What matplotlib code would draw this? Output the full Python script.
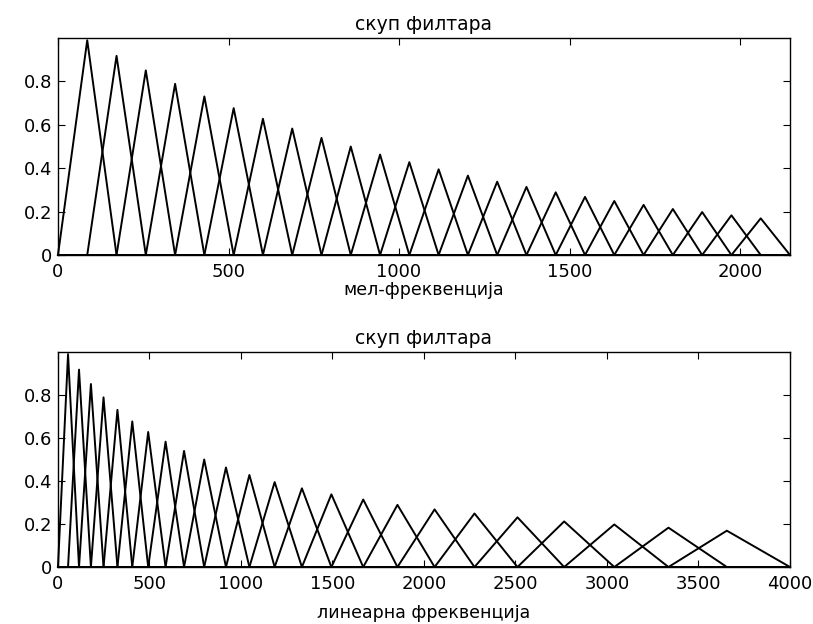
import matplotlib.pyplot as plt
import numpy as np

plt.rcParams['font.family'] = ['DejaVu Sans']

# filter edge points (mel scale) and the same points in Hz
mel_edges = [0, 85.8, 171.7, 257.5, 343.4, 429.2, 515.1, 600.9, 686.8, 772.6,
             858.4, 944.3, 1030.1, 1116.0, 1201.8, 1287.7, 1373.5, 1459.3,
             1545.2, 1631.0, 1716.9, 1802.7, 1888.6, 1974.4, 2060.3, 2146.1]
hz_edges = [0, 55, 115, 180, 249, 325, 406, 493, 588, 689,
            799, 918, 1046, 1184, 1333, 1494, 1668, 1855,
            2058, 2276, 2511, 2766, 3040, 3336, 3655, 4000]
# peak height of each triangular filter
peaks = [0.99, 0.918, 0.851, 0.789, 0.731, 0.677, 0.628, 0.583, 0.540, 0.500,
         0.463, 0.428, 0.395, 0.366, 0.338, 0.314, 0.289, 0.268, 0.249, 0.231,
         0.212, 0.198, 0.183, 0.169]

mel_max = 2146.1
hz_max = 4000


def draw_bank(ax, edges, xmax, xlabel, labelpad):
    for i, h in enumerate(peaks):
        xs = [0, edges[i], edges[i + 1], edges[i + 2], xmax]
        ys = [0, 0, h, 0, 0]
        ax.plot(xs, ys, color='black', linewidth=1.4, clip_on=False)
    ax.set_xlim(0, xmax)
    ax.set_ylim(0, 1)
    ax.set_yticks([0, 0.2, 0.4, 0.6, 0.8])
    ax.set_yticklabels(['0', '0.2', '0.4', '0.6', '0.8'])
    ax.tick_params(direction='in', top=True, right=True, length=5,
                   labelsize=13)
    ax.tick_params(axis='x', pad=6)
    ax.tick_params(axis='y', pad=4)
    ax.set_title('скуп филтара', fontsize=13.5, pad=6)
    ax.set_xlabel(xlabel, fontsize=12.5, labelpad=labelpad)
    for s in ax.spines.values():
        s.set_linewidth(1.0)


fig = plt.figure(figsize=(8.13, 6.24), dpi=100)
ax1 = fig.add_axes([0.0713, 0.5913, 0.9004, 0.3477])
ax2 = fig.add_axes([0.0713, 0.0913, 0.9004, 0.3446])

draw_bank(ax1, mel_edges, mel_max, 'мел-фреквенција', 0)
ax1.set_xticks([0, 500, 1000, 1500, 2000])
draw_bank(ax2, hz_edges, hz_max, 'линеарна фреквенција', 8)
ax2.set_xticks([0, 500, 1000, 1500, 2000, 2500, 3000, 3500, 4000])

fig.savefig('out.png', dpi=100)
